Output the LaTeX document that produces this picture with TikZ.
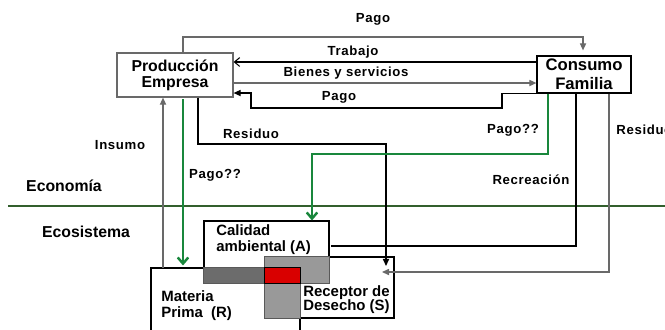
\documentclass[tikz,border=0pt]{standalone}
\usepackage{fontspec}
\setmainfont{Liberation Sans}
\newfontfamily\widesans{Liberation Sans}[LetterSpace=5]
\usepackage{tikz}
\usetikzlibrary{arrows.meta,positioning,calc}
\definecolor{flowgreen}{RGB}{25,135,60}
\definecolor{bordergreen}{RGB}{50,95,45}
\definecolor{linegray}{RGB}{105,105,105}
\begin{document}
\begin{tikzpicture}[
        x=0.02cm, y=-0.02cm,
        block/.style={
            draw=linegray,
            line width=0.7pt,
            align=center,
            inner sep=0pt,
            font=\fontsize{9}{9.2}\selectfont\bfseries
        },
        zone/.style={
            draw=black,
            line width=0.6pt,
            inner sep=0pt
        },
        zonetext/.style={
            anchor=west,
            align=left,
            inner sep=0pt,
            font=\fontsize{8.5}{9.2}\selectfont\bfseries
        },
        lbl/.style={
            inner sep=0pt,
            font=\widesans\fontsize{7.5}{9}\selectfont\bfseries
        },
        arrow/.style={
            -{Triangle[length=4pt,width=3.5pt]},
            line width=0.7pt
        },
        openarrow/.style={
            -{Straight Barb[length=3pt,width=5pt]},
            line width=0.6pt
        },
        greenarrow/.style={
            -{Straight Barb[length=3.5pt,width=6pt]},
            draw=flowgreen,
            line width=1.4pt
        }
    ]
        \useasboundingbox (0,0) rectangle (665,329);

        % economia
        \node[block, minimum width=2.32cm, minimum height=0.88cm] (prod) at (175,75) {Producción\\Empresa};
        \node[block, draw=black, minimum width=1.88cm, minimum height=0.74cm,
              font=\fontsize{9.5}{10.8}\selectfont\bfseries] (cons) at (584,74.5) {Consumo\\Familia};

        % ecosistema
        \node[zone, minimum width=2.5cm, minimum height=1.24cm] (calidad) at (266.5,252) {};
        \node[zone, minimum width=2.98cm, minimum height=1.44cm] (materia) at (225.5,304) {};
        \node[zone, minimum width=2.58cm, minimum height=1.22cm] (receptor) at (329.5,287.5) {};
        \fill[gray!85!black, draw=gray!70!black] (calidad.west |- materia.north) rectangle (receptor.west |- calidad.south);
        \fill[gray!80, draw=gray!70!black] (receptor.north west) rectangle (calidad.south east);
        \fill[gray!80, draw=gray!70!black] (receptor.west |- materia.north) rectangle (materia.east |- receptor.south);
        \draw[fill=red!85!black, draw=black, line width=0.7pt] (receptor.west |- materia.north) rectangle (materia.east |- calidad.south);

        \node[zonetext] (calidadtxt) at (216,240) {Calidad\\ambiental (A)};
        \node[zonetext] (materiatxt) at (161,306) {Materia\\Prima\ \ (R)};
        \node[zonetext, font=\fontsize{8.5}{8}\selectfont\bfseries] (receptortxt) at (303,300) {Receptor de\\Desecho (S)};

        % limite
        \coordinate (lineL) at (8,206);
        \coordinate (lineR) at (665,206);
        \draw[bordergreen, line width=1.4pt] (lineL) -- (lineR);
        \node[lbl, font=\fontsize{9}{10}\selectfont\bfseries] (economia) at (64,186) {Economía};
        \node[lbl, font=\fontsize{9}{10}\selectfont\bfseries] (ecosistema) at (86,232) {Ecosistema};

        % flujos
        \coordinate (pagoA) at (183,37);
        \coordinate (pagoB) at (583,37);
        \draw[arrow, draw=linegray] ([xshift=0.16cm]prod.north) |- (pagoA) -- (pagoB) -- ([yshift=0.1cm]cons.north -| pagoB);
        \node[lbl] (pagotop) at (373,19) {Pago};

        \draw[openarrow] (cons.west |- 0,62) -- (prod.east |- 0,62);
        \node[lbl] (trabajo) at (353,52) {Trabajo};

        \draw[arrow, draw=linegray] (prod.east |- 0,83) -- (cons.west |- 0,83);
        \node[lbl] (bienes) at (346,73) {Bienes y servicios};

        \coordinate (pagoC) at (502,108);
        \coordinate (pagoD) at (251,108);
        \draw[arrow] (cons.south west) -| (pagoC) -- (pagoD) |- (prod.east |- 0,93);
        \node[lbl] (pagolow) at (339,97) {Pago};

        \coordinate (resA) at (198,144);
        \coordinate (resB) at (386,144);
        \coordinate (resEnd) at (386,266);
        \draw[arrow] (prod.south -| resA) -- (resA) -- (resB) -- (resEnd);
        \node[lbl] (residuoP) at (251,134) {Residuo};

        \coordinate (pgA) at (183,99);
        \draw[greenarrow] (pgA) -- ([yshift=0.04cm]materia.north -| pgA);
        \node[lbl] (pagoQ1) at (215,175) {Pago??};

        \coordinate (insumo) at (163,268);
        \draw[arrow, draw=linegray] (insumo) -- (prod.south -| insumo);
        \node[lbl] (insumotxt) at (120,145) {Insumo};

        \coordinate (pgB) at (548,154);
        \coordinate (pgC) at (312,154);
        \draw[greenarrow] (cons.south -| pgB) -- (pgB) -- (pgC) -- (calidad.north -| pgC);
        \node[lbl] (pagoQ2) at (513,130) {Pago??};

        \coordinate (recA) at (576,246);
        \coordinate (recEnd) at (331,246);
        \draw[line width=0.7pt] (cons.south -| recA) -- (recA) -- (recEnd);
        \node[lbl] (recreacion) at (531,180) {Recreación};

        \coordinate (resC) at (609,272);
        \coordinate (resEnd2) at (382,272);
        \draw[arrow, draw=linegray] (cons.south -| resC) -- (resC) -- (resEnd2);
        \node[lbl, anchor=west] (residuoC) at (616,130) {Residuo};

    \end{tikzpicture}
\end{document}
